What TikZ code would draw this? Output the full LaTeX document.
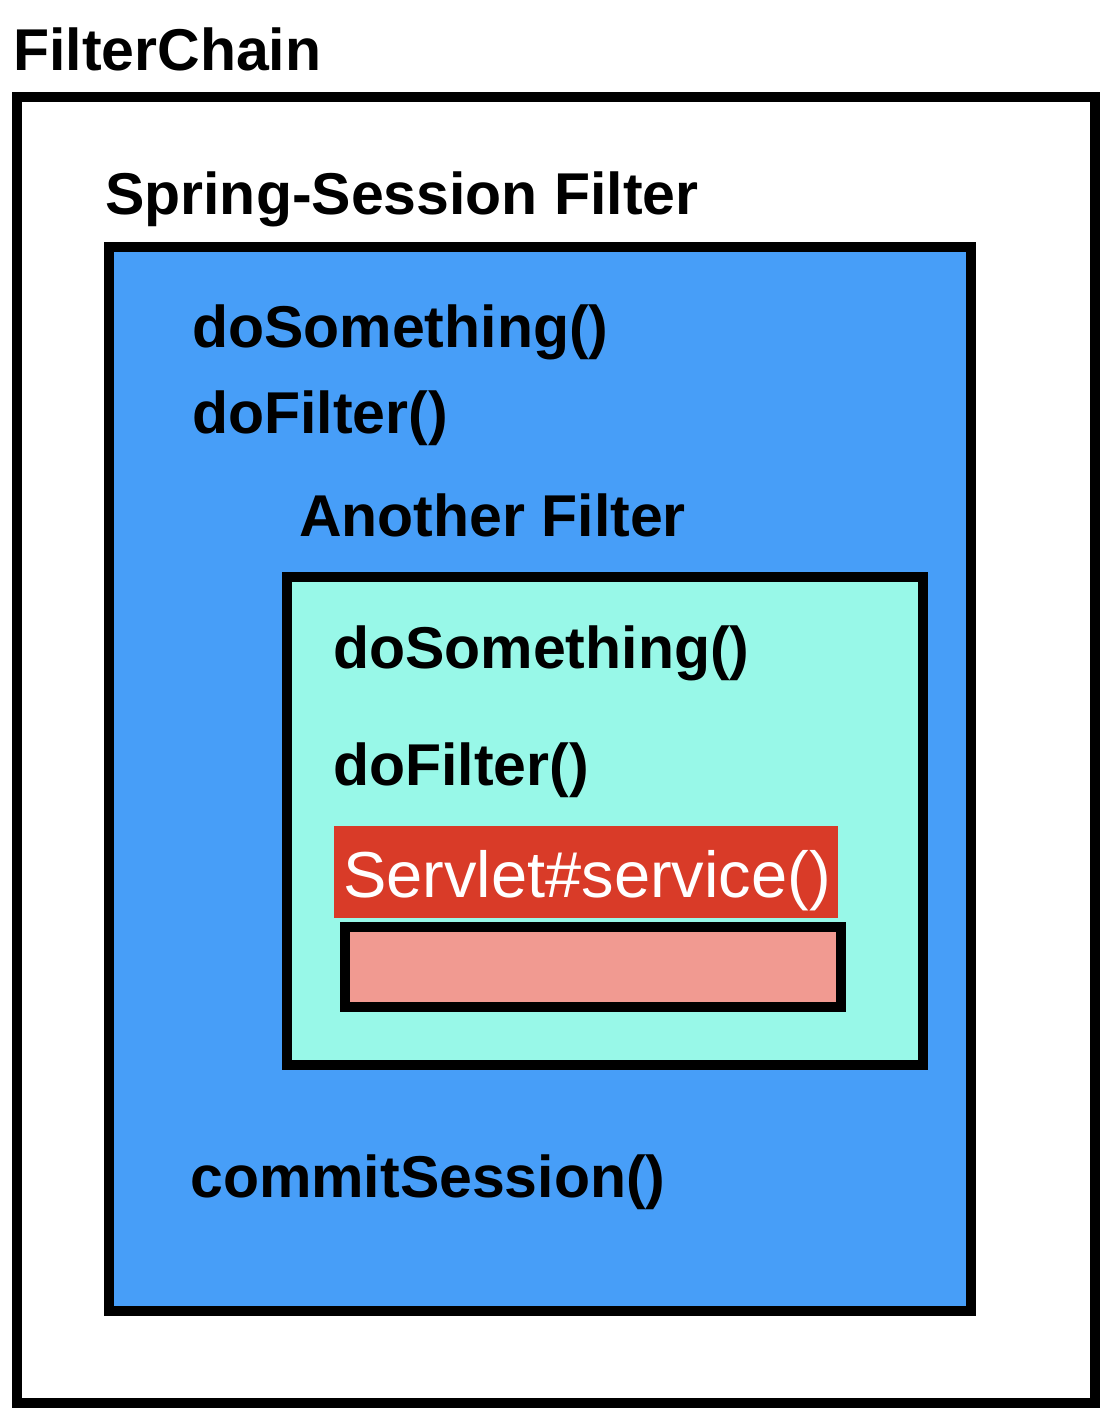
\documentclass[tikz,border=0pt]{standalone}
\usepackage{fontspec}
\setmainfont{Liberation Sans}
\definecolor{sblue}{RGB}{71,158,248}
\definecolor{scyan}{RGB}{152,248,232}
\definecolor{sred}{RGB}{217,59,40}
\definecolor{spink}{RGB}{241,154,145}
\tikzset{
  framebox/.style={draw=black, line width=10pt, rectangle, inner sep=0pt, outer sep=0pt},
  lbl/.style={anchor=base west, inner sep=0pt, font=\fontsize{59}{70}\selectfont\bfseries, text=black},
  svc/.style={anchor=base west, inner sep=0pt, font=\fontsize{65}{76}\selectfont, text=white}
}
\begin{document}
\begin{tikzpicture}[x=1pt,y=-1pt]
\useasboundingbox (0,0) rectangle (1102,1410);
\fill[white] (0,0) rectangle (1102,1410);
\node[framebox, fill=white, minimum width=1078pt, minimum height=1306pt] (chain) at (556,750) {};
\node[framebox, fill=sblue, minimum width=862pt, minimum height=1064pt] (spring) at (540,779) {};
\node[framebox, fill=scyan, minimum width=636pt, minimum height=488pt] (another) at (605,821) {};
\node[rectangle, fill=sred, inner sep=0pt, minimum width=504pt, minimum height=92pt] (svcbg) at (586,872) {};
\node[framebox, fill=spink, minimum width=496pt, minimum height=80pt] (inner) at (593,967) {};

\node[lbl] (tchain) at (13,71) {FilterChain};
\node[lbl] (tspring) at (105,214) {Spring-Session Filter};
\node[lbl] (tds1) at (192,347) {doSomething()};
\node[lbl] (tdf1) at (192,433) {doFilter()};
\node[lbl] (tanother) at (299,536) {Another Filter};
\node[lbl] (tds2) at (333,668) {doSomething()};
\node[lbl] (tdf2) at (333,785) {doFilter()};
\node[svc] (tsvc) at (343,897) {Servlet\#service()};
\node[lbl] (tcommit) at (190,1197) {commitSession()};
\end{tikzpicture}
\end{document}
